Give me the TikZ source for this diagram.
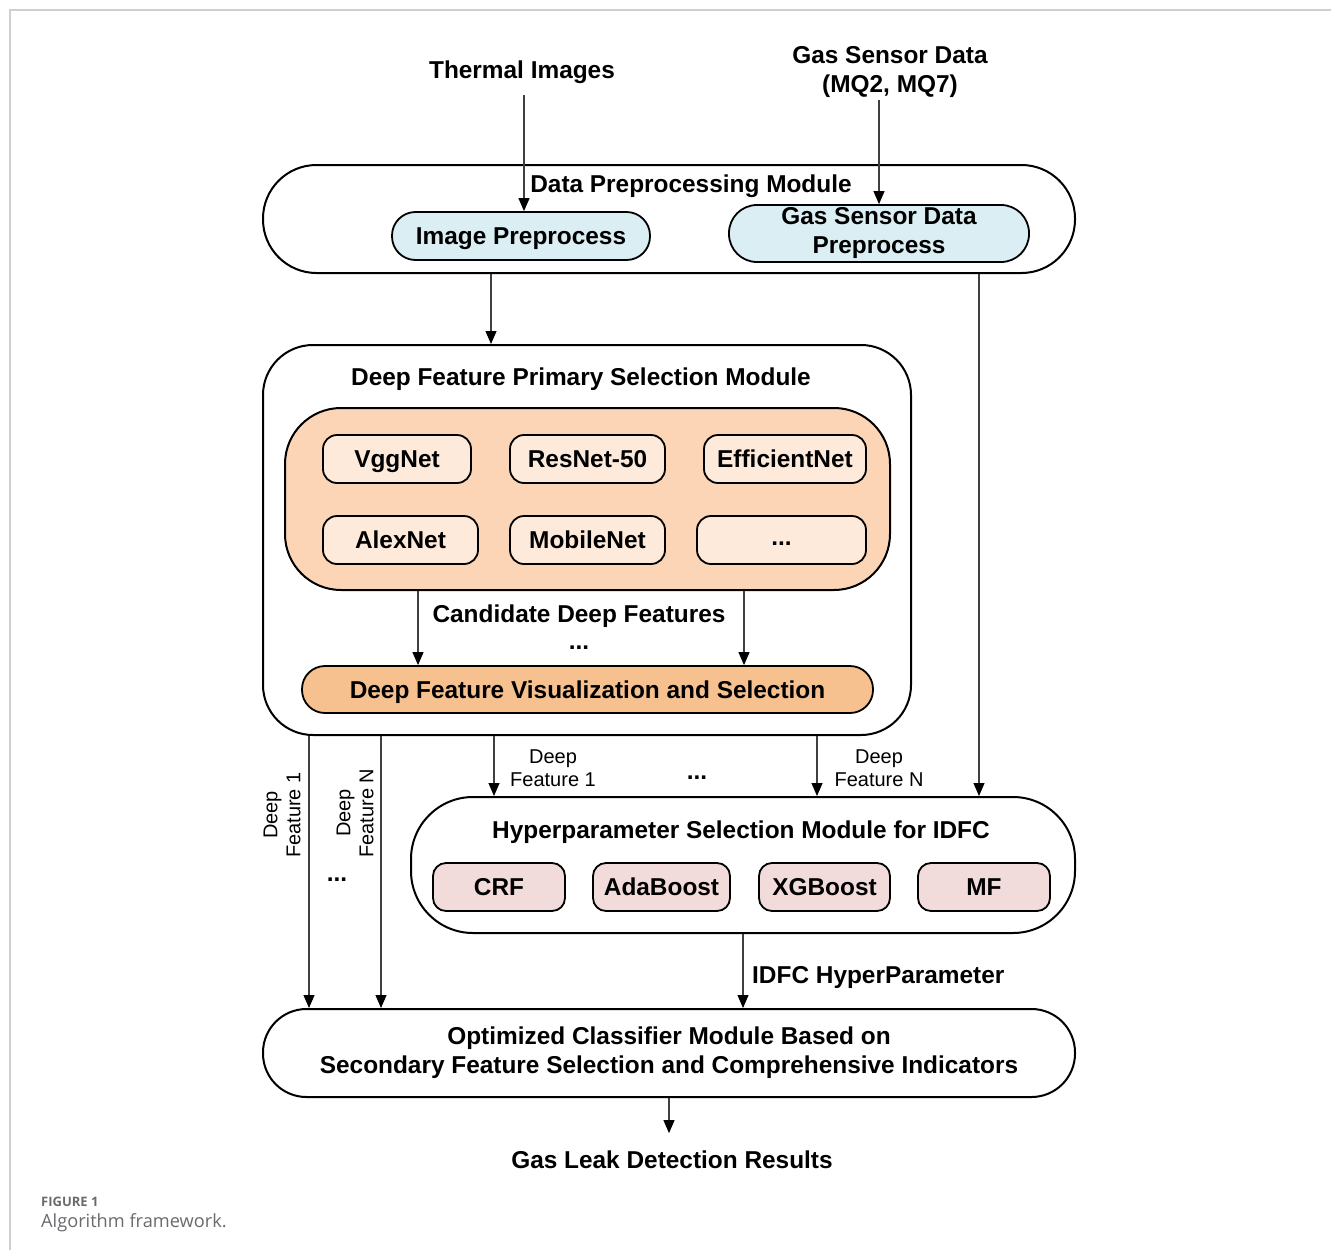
\documentclass[tikz,border=0pt]{standalone}
\usepackage{fontspec}
\setmainfont{Liberation Sans}
\newfontfamily\capfont{Open Sans}
\usetikzlibrary{arrows.meta,calc}
\definecolor{bluefill}{HTML}{DAEEF3}
\definecolor{cnnfill}{HTML}{FBD5B6}
\definecolor{netfill}{HTML}{FDEADB}
\definecolor{dfvsfill}{HTML}{F6C18F}
\definecolor{pinkfill}{HTML}{F2DCDB}
\definecolor{framegray}{HTML}{CFCFCF}
\definecolor{capgray}{HTML}{6A6B6E}
\begin{document}
\begin{tikzpicture}[x=1pt,y=-1pt,
  module/.style={draw=black, line width=2pt, fill=white, rectangle, inner sep=0pt},
  pill/.style={draw=black, line width=1.8pt, rectangle, inner sep=0pt,
    font=\fontsize{24.4}{29}\selectfont\bfseries},
  oneline/.style={text height=17.5pt, text depth=0pt},
  netbox/.style={pill, oneline, fill=netfill, rounded corners=14pt, minimum height=48pt},
  clfbox/.style={pill, oneline, fill=pinkfill, rounded corners=13pt, minimum height=48pt},
  btitle/.style={font=\fontsize{24.4}{29}\selectfont\bfseries, inner sep=0pt, anchor=base},
  lbl/.style={font=\fontsize{20}{23}\selectfont, inner sep=0pt, align=center},
  arr/.style={draw=black!75, line width=1.1pt, -{Triangle[length=13pt,width=11pt,color=black]}}
]
\useasboundingbox (0,0) rectangle (1331,1250);
\fill[white] (0,0) rectangle (1331,1250);
\draw[framegray, line width=1.5pt] (10,1250) -- (10,10) -- (1331,10);

% inputs
\node[btitle] (thermal) at (522,78) {Thermal Images};
\node[btitle, anchor=center, align=center] (gassrc) at (890,72) {Gas Sensor Data\\(MQ2, MQ7)};

% data preprocessing module
\node[module, rounded corners=53.5pt, minimum width=812pt, minimum height=108pt] (dpm) at (669,219) {};
\node[btitle] (dpmt) at (691,192) {Data Preprocessing Module};
\node[pill, oneline, fill=bluefill, rounded corners=23.5pt, minimum width=258pt, minimum height=48pt] (imgpre) at (521,236) {Image Preprocess};
\node[pill, fill=bluefill, rounded corners=28pt, minimum width=300pt, minimum height=57pt, align=center] (gaspre) at (879,233.5) {Gas Sensor Data\\Preprocess};

% deep feature primary selection module
\node[module, rounded corners=50pt, minimum width=648pt, minimum height=390pt] (dfm) at (587,540) {};
\node[btitle] (dfmt) at (581,385) {Deep Feature Primary Selection Module};
\node[draw=black, line width=2pt, fill=cnnfill, rounded corners=56pt, minimum width=605pt, minimum height=182pt, inner sep=0pt] (cnn) at (587.5,499) {};
\node[netbox, minimum width=148pt] (vgg) at (397,459) {VggNet};
\node[netbox, minimum width=155pt] (resnet) at (587.5,459) {ResNet-50};
\node[netbox, minimum width=162pt] (effnet) at (785,459) {EfficientNet};
\node[netbox, minimum width=155pt] (alexnet) at (400.5,540) {AlexNet};
\node[netbox, minimum width=155pt] (mobilenet) at (587.5,540) {MobileNet};
\node[pill, fill=netfill, rounded corners=14pt, minimum height=48pt, minimum width=169pt, text height=10pt, text depth=0pt] (morenet) at (781.5,540) {...};
\node[btitle] (cand) at (579,622) {Candidate Deep Features};
\node[btitle] (dots3) at (579,649) {...};
\node[pill, oneline, fill=dfvsfill, rounded corners=23pt, minimum width=571pt, minimum height=47pt] (dfvs) at (587.5,689.5) {Deep Feature Visualization and Selection};

% hyperparameter selection module
\node[module, rounded corners=62pt, minimum width=664pt, minimum height=136pt] (hsm) at (743,865) {};
\node[btitle] (hsmt) at (741,838) {Hyperparameter Selection Module for IDFC};
\node[clfbox, minimum width=132pt] (crf) at (499,887) {CRF};
\node[clfbox, minimum width=137pt] (ada) at (661.5,887) {AdaBoost};
\node[clfbox, minimum width=131pt] (xgb) at (824.5,887) {XGBoost};
\node[clfbox, minimum width=132pt] (mf) at (984,887) {MF};

% optimized classifier module
\node[module, rounded corners=43.5pt, minimum width=812pt, minimum height=88pt, align=center,
  font=\fontsize{24.4}{29}\selectfont\bfseries] (ocm) at (669,1053)
  {Optimized Classifier Module Based on\\Secondary Feature Selection and Comprehensive Indicators};
\node[btitle] (result) at (672,1168) {Gas Leak Detection Results};

% labels
\node[lbl] (df1) at (553,768.5) {Deep\\Feature 1};
\node[lbl] (dfn) at (879,768.5) {Deep\\Feature N};
\node[btitle] (dots1) at (697,779) {...};
\node[lbl, rotate=90] (rdf1) at (282,815) {Deep\\Feature 1};
\node[lbl, rotate=90] (rdfn) at (355,813) {Deep\\Feature N};
\node[btitle] (dots2) at (337,881) {...};
\node[btitle, anchor=base west] (idfc) at (752,983) {IDFC HyperParameter};

% connectors
\draw[arr] ([xshift=2pt,yshift=-12pt]thermal.south) -- ([xshift=3pt]imgpre.north);
\draw[arr] ([xshift=-11pt,yshift=-2pt]gassrc.south) -- (gaspre.north);
\draw[arr] ([xshift=-178pt]dpm.south) -- ([xshift=-96pt]dfm.north);
\draw[arr] ([xshift=310pt]dpm.south) -- ([xshift=236pt]hsm.north);
\draw[arr] ([xshift=-169.5pt]cnn.south) -- ([xshift=-169.5pt]dfvs.north);
\draw[arr] ([xshift=156.5pt]cnn.south) -- ([xshift=156.5pt]dfvs.north);
\draw[arr] ([xshift=-278pt]dfm.south) -- ([xshift=-360pt]ocm.north);
\draw[arr] ([xshift=-206pt]dfm.south) -- ([xshift=-288pt]ocm.north);
\draw[arr] ([xshift=-93pt]dfm.south) -- ([xshift=-249pt]hsm.north);
\draw[arr] ([xshift=230pt]dfm.south) -- ([xshift=74pt]hsm.north);
\draw[arr] (hsm.south) -- ([xshift=74pt]ocm.north);
\draw[arr] (ocm.south) -- ([xshift=-3pt,yshift=17pt]result.north);

% caption
\node[anchor=base west, inner sep=0pt, text=capgray, font=\capfont\bfseries\fontsize{13}{16}\selectfont] (figlbl) at (41,1206) {FIGURE 1};
\node[anchor=base west, inner sep=0pt, text=capgray, font=\capfont\fontsize{18.2}{21}\selectfont] (figcap) at (41,1227) {Algorithm framework.};
\end{tikzpicture}
\end{document}
